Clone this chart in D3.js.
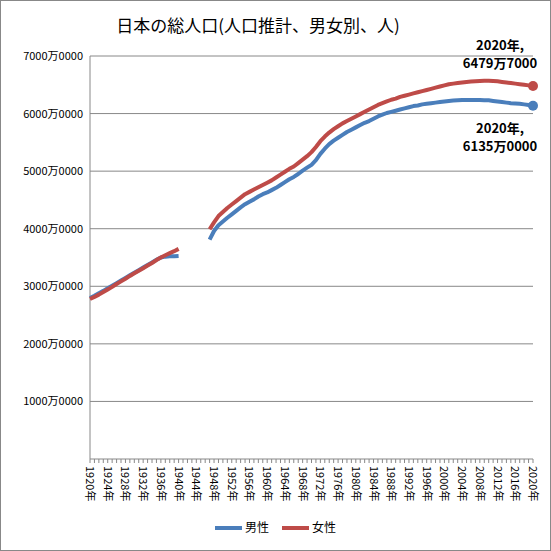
<!DOCTYPE html>
<html><head><meta charset="utf-8">
<script src="https://cdn.jsdelivr.net/npm/d3@7"></script>
<style>body{margin:0;background:#fff}text{font-family:"Noto Sans CJK JP",sans-serif}</style>
</head><body><svg id="chart" width="551" height="551"></svg>
<script>
const preYears = d3.range(1920, 1941)
const maleA = [2795,2835,2880,2920,2965,3010,3055,3100,3145,3190,3235,3280,3325,3370,3415,3460,3500,3515,3520,3520,3525]
const femaleA = [2780,2815,2855,2900,2945,2990,3040,3085,3130,3180,3225,3270,3315,3360,3405,3455,3500,3540,3575,3610,3650]
const postYears = d3.range(1947, 2021)
const maleB = [3810,3960,4060,4125,4190,4250,4310,4370,4425,4470,4510,4560,4600,4630,4670,4710,4760,4810,4860,4900,4950,5010,5060,5110,5190,5300,5390,5470,5530,5580,5630,5680,5720,5760,5800,5840,5870,5910,5950,5980,6010,6030,6050,6070,6090,6110,6130,6140,6160,6170,6180,6190,6200,6210,6220,6225,6230,6235,6235,6235,6235,6235,6230,6230,6220,6210,6200,6190,6180,6175,6170,6160,6150,6135]
const femaleB = [3990,4110,4220,4290,4360,4420,4480,4540,4600,4640,4680,4720,4760,4800,4840,4890,4940,4990,5040,5080,5140,5200,5260,5330,5420,5520,5600,5670,5730,5780,5830,5870,5910,5950,5990,6030,6070,6110,6150,6180,6210,6240,6260,6290,6310,6330,6350,6370,6390,6410,6430,6450,6470,6490,6510,6520,6530,6540,6550,6555,6560,6565,6570,6570,6565,6560,6550,6540,6530,6520,6510,6500,6490,6479]
const yTicks = [1000,2000,3000,4000,5000,6000,7000]
const yTickLabels = yTicks.map(v => (v) + '万0000')
const labelYears = d3.range(1920, 2021, 4)

const svg = d3.select('#chart')
svg.append('rect').attr('x',0.5).attr('y',0.5).attr('width',550).attr('height',550).attr('fill','#fff').attr('stroke','#888')

const x = d3.scaleLinear().domain([1920, 2020]).range([90, 533])
const y = d3.scaleLinear().domain([0, 7000]).range([459, 56])

svg.append('text').attr('x',258).attr('y',32).attr('text-anchor','middle').attr('font-size',17).text('日本の総人口(人口推計、男女別、人)')

const g = svg.append('g')
g.selectAll('line.grid').data(yTicks).join('line').attr('x1',90).attr('x2',533)
  .attr('y1',d=>y(d)).attr('y2',d=>y(d)).attr('stroke','#888').attr('stroke-width',1)
g.selectAll('text.yl').data(yTicks).join('text').attr('x',83).attr('y',d=>y(d)+4)
  .attr('text-anchor','end').attr('font-size',11).text((d,i)=>yTickLabels[i])
g.append('line').attr('x1',90).attr('x2',90).attr('y1',56).attr('y2',459).attr('stroke','#888')
g.append('line').attr('x1',90).attr('x2',533).attr('y1',459).attr('y2',459).attr('stroke','#888')
g.selectAll('line.tk').data(d3.range(1920,2021)).join('line').attr('x1',d=>x(d)).attr('x2',d=>x(d))
  .attr('y1',459).attr('y2',463).attr('stroke','#888')
g.selectAll('text.xl').data(labelYears).join('text')
  .attr('transform',d=>`translate(${x(d)-4},466) rotate(90)`).attr('font-size',11).text(d=>d+'年')

const line = d3.line().x(d=>x(d[0])).y(d=>y(d[1]))
const series = [
  [preYears, maleA, '#4a7ebb'], [preYears, femaleA, '#be4b48'],
  [postYears, maleB, '#4a7ebb'], [postYears, femaleB, '#be4b48']
]
series.forEach(([yrs, vals, c]) => {
  g.append('path').attr('d', line(yrs.map((yr,i)=>[yr, vals[i]]))).attr('fill','none')
    .attr('stroke',c).attr('stroke-width',4).attr('stroke-linejoin','round')
})
g.append('circle').attr('cx',x(2020)).attr('cy',y(6135)).attr('r',5).attr('fill','#4a7ebb')
g.append('circle').attr('cx',x(2020)).attr('cy',y(6479)).attr('r',5).attr('fill','#be4b48')

const ann = (lines, yy) => lines.forEach((t,i)=>svg.append('text').attr('x',500).attr('y',yy+i*18)
  .attr('text-anchor','middle').attr('font-size',13).attr('font-weight','bold').text(t))
ann(['2020年,','6479万7000'], 50)
ann(['2020年,','6135万0000'], 133)

const leg = svg.append('g')
;[['男性','#4a7ebb',215],['女性','#be4b48',282]].forEach(([t,c,lx])=>{
  leg.append('line').attr('x1',lx).attr('x2',lx+27).attr('y1',528).attr('y2',528).attr('stroke',c).attr('stroke-width',4)
  leg.append('text').attr('x',lx+30).attr('y',532).attr('font-size',12).text(t)
})
</script></body></html>
